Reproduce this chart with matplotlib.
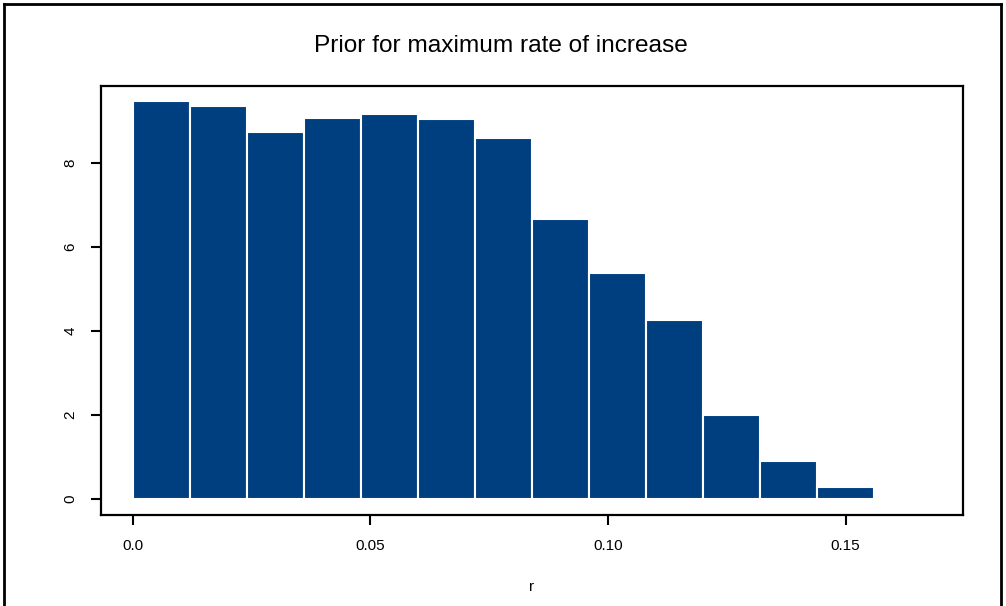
import numpy as np
import matplotlib
matplotlib.use('Agg')
import matplotlib.pyplot as plt
from matplotlib.lines import Line2D

# histogram breaks and densities
bin_edges = [0.0, 0.012, 0.024, 0.036, 0.048, 0.060, 0.072, 0.084,
             0.096, 0.108, 0.120, 0.132, 0.144, 0.156]
density = [9.46, 9.36, 8.74, 9.07, 9.17, 9.03, 8.60,
           6.66, 5.37, 4.25, 2.01, 0.91, 0.29]
x_ticks = [0.0, 0.05, 0.10, 0.15]
x_tick_labels = ['0.0', '0.05', '0.10', '0.15']
y_ticks = [0, 2, 4, 6, 8]

plt.rcParams['font.family'] = ['Liberation Sans', 'DejaVu Sans']

fig = plt.figure(figsize=(10.06, 6.06), dpi=100)
ax = fig.add_axes([101 / 1006, 1 - 515 / 606, (963 - 101) / 1006, (515 - 85.5) / 606])

edges = np.array(bin_edges)
ax.bar(edges[:-1], density, width=np.diff(edges), align='edge',
       color='#003f7f', edgecolor='white', linewidth=1.5)

# R style 4% padding
xr = 0.168
ax.set_xlim(-0.04 * xr, xr * 1.04)
ymax = max(density)
ax.set_ylim(-0.04 * ymax, ymax * 1.04)

ax.set_xticks(x_ticks)
ax.set_xticklabels(x_tick_labels)
ax.set_yticks(y_ticks)
ax.set_yticklabels([str(v) for v in y_ticks], rotation=90, va='center')
ax.tick_params(direction='out', length=7, width=1.5, labelsize=11, pad=10, colors='black')
for s in ax.spines.values():
    s.set_linewidth(1.6)

ax.set_xlabel('r', fontsize=11, labelpad=20)
fig.text(501 / 1006, 1 - 46 / 606, 'Prior for maximum rate of increase',
         ha='center', va='center', fontsize=17.6)

# outer frame (no bottom edge)
fig.add_artist(Line2D([4 / 1006, 4 / 1006], [0, 1 - 4 / 606], color='black', lw=2))
fig.add_artist(Line2D([4 / 1006, 1001 / 1006], [1 - 4 / 606, 1 - 4 / 606], color='black', lw=2))
fig.add_artist(Line2D([1001 / 1006, 1001 / 1006], [1 - 4 / 606, 0], color='black', lw=2))

fig.savefig('out.png', dpi=100)
